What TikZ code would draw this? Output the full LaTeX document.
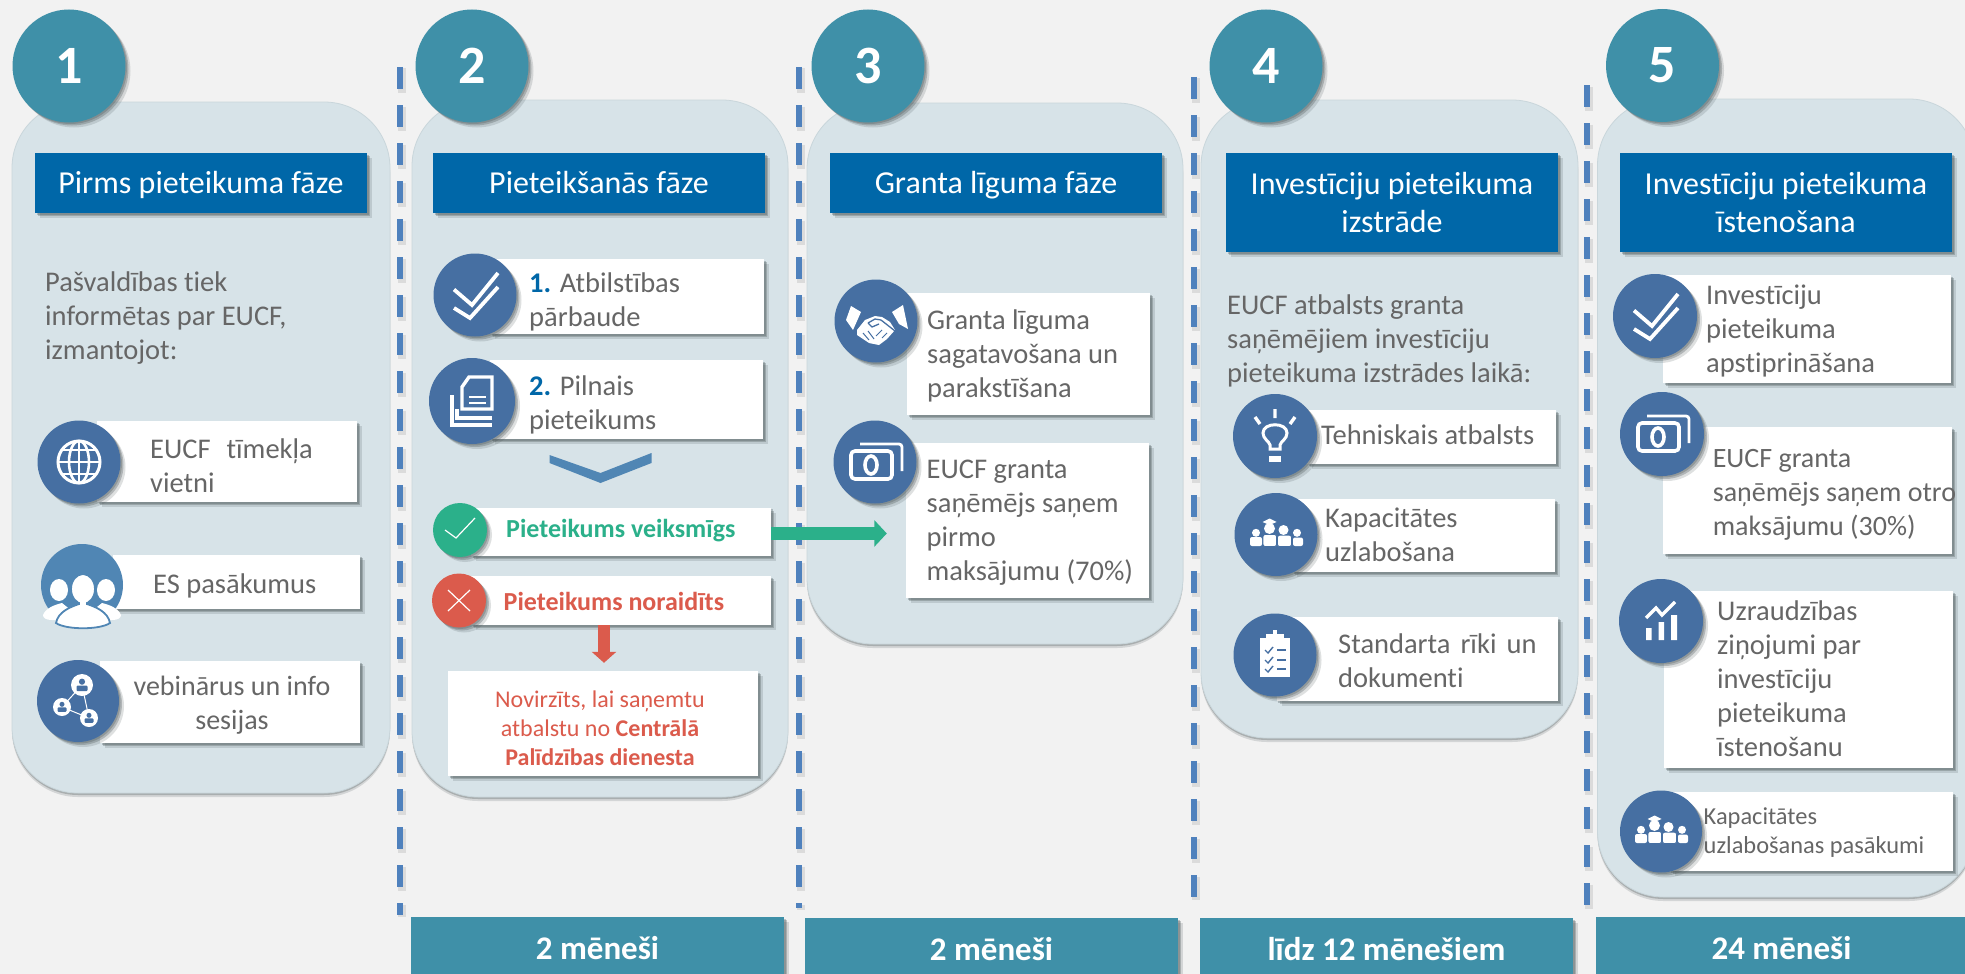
\documentclass[tikz,border=0pt]{standalone}
\usepackage{fontspec}
\setmainfont{Carlito}[Ligatures=NoCommon]
\usetikzlibrary{shadows,arrows.meta}
\definecolor{bgc}{HTML}{F2F2F2}
\definecolor{panelc}{HTML}{D7E3E8}
\definecolor{panelb}{HTML}{C9D6DB}
\definecolor{tealc}{HTML}{3F90A8}
\definecolor{headc}{HTML}{0067A8}
\definecolor{iconc}{HTML}{466FA2}
\definecolor{iconl}{HTML}{5086B4}
\definecolor{dashc}{HTML}{4F81BD}
\definecolor{greenc}{HTML}{2BB08A}
\definecolor{redc}{HTML}{DB5B4C}
\definecolor{txtc}{HTML}{666666}
\definecolor{shc}{HTML}{4A5558}
\definecolor{numc}{HTML}{0067A8}
\tikzset{
  x=1pt,y=-1pt,
  sh/.style={drop shadow={shadow xshift=1.5pt,shadow yshift=-1.5pt,fill=shc,opacity=.3},
             drop shadow={shadow xshift=3pt,shadow yshift=-3pt,fill=shc,opacity=.3},
             drop shadow={shadow xshift=5pt,shadow yshift=-5pt,fill=shc,opacity=.18}},
  shp/.style={drop shadow={shadow xshift=0pt,shadow yshift=-2pt,fill=shc,opacity=.3},
             drop shadow={shadow xshift=0pt,shadow yshift=-4pt,fill=shc,opacity=.18}},
  panel/.style={draw=panelb,line width=.8pt,fill=panelc,rounded corners=66pt,inner sep=0pt,shp},
  bignum/.style={circle,fill=tealc,minimum size=113pt,inner sep=0pt,text=white,font=\fontsize{54}{54}\selectfont\bfseries,sh},
  head/.style={fill=headc,inner sep=0pt,text=white,align=center,sh,font=\fontsize{32}{38}\selectfont},
  foot/.style={fill=tealc,inner sep=0pt,text=white,align=center,font=\fontsize{33}{33}\selectfont\bfseries,sh},
  wbox/.style={fill=white,inner sep=0pt,sh},
  ic/.style={circle,fill=iconc,inner sep=0pt,sh},
  body/.style={anchor=west,inner sep=0pt,align=left,text=txtc,font=\fontsize{28.5}{34}\selectfont},
  bodyc/.style={inner sep=0pt,align=center,text=txtc,font=\fontsize{28}{34}\selectfont},
  sep/.style={line width=6pt,dashc,dash pattern=on 22pt off 16pt},
  sepsh/.style={line width=8pt,black!14,dash pattern=on 24pt off 14pt,transform canvas={shift={(1.5pt,-1.5pt)}}},
  wl/.style={draw=white,line width=3pt,fill=none},
  wf/.style={fill=white,draw=none},
  pics/chk/.style={code={\draw[wl,line width=3.8pt,line join=miter] (-21,-5.5)--(-3,10)--(23,-22);\draw[wl,line width=3.8pt,line join=miter] (-21,13)--(-5,23)--(23,-8);}},
  pics/docs/.style={code={
    \draw[wl,line width=3.4pt] (-3,-24)--(20,-24)--(20,8)--(-10,8)--(-10,-14)--cycle;
    \draw[wl,line width=2.8pt] (-3,-4)--(14,-4) (-3,2)--(14,2);
    \draw[wl,line width=3.4pt] (-20,-6)--(-20,24)--(20,24);
    \draw[wl,line width=3.4pt] (-15,8)--(-15,17)--(20,17);}},
  pics/note/.style={code={
    \draw[wl,line width=3.6pt,rounded corners=4pt] (-24,-11) rectangle (17,17);
    \draw[wl,line width=3.6pt] (-4,3) ellipse [x radius=6,y radius=9];
    \draw[wl,line width=2.8pt,rounded corners=3pt] (-15,-18)--(27,-18)--(27,9);}},
  pics/globe/.style={code={
    \draw[wl] (0,0) circle [radius=21];
    \draw[wl,line width=2.6pt] (0,0) ellipse [x radius=10,y radius=21];
    \draw[wl,line width=2.6pt] (0,-21)--(0,21) (-21,0)--(21,0);
    \draw[wl,line width=2.6pt] (-17,-12)--(17,-12) (-17,12)--(17,12);}},
  pics/crowd/.style={code={
    \fill[white] (-23,5) ellipse [x radius=9,y radius=11];
    \fill[white] (24,5) ellipse [x radius=9,y radius=11];
    \fill[white] (-39,30) .. controls (-36,23) and (-28,20) .. (-20,18) -- (-5,30) -- (-9,35) -- (-30,35) .. controls (-36,35) and (-39,33) .. (-39,30) -- cycle;
    \fill[white] (39,30) .. controls (36,23) and (28,20) .. (20,18) -- (5,30) -- (9,35) -- (30,35) .. controls (36,35) and (39,33) .. (39,30) -- cycle;
    \filldraw[fill=white,draw=iconl,line width=1.8pt] (1,4) ellipse [x radius=12,y radius=15];
    \filldraw[fill=white,draw=iconl,line width=1.8pt] (-26,38) .. controls (-24,27) and (-12,22) .. (-3,19) -- (5,19) .. controls (14,22) and (26,27) .. (28,38) .. controls (18,45) and (-16,45) .. (-26,38) -- cycle;
    \fill[white] (-2,14) rectangle (4,22);}},
  pics/net/.style={code={
    \draw[white,line width=1pt] (4,-16)--(-16,6)--(11,17)--cycle;
    \foreach \a/\b/\r in {4/-16/11,-16/6/9,11/17/9}{
      \fill[white] (\a,\b) circle [radius=\r];
      \fill[iconc] (\a,\b-\r*.3) circle [radius=\r*.28];
      \fill[iconc,rounded corners=1pt] (\a-\r*.5,\b+\r*.55) rectangle (\a+\r*.5,\b+\r*.05);}}},
  pics/shake/.style={code={
    \fill[white] (-30,-1)--(-25,-15)--(-15,-9)--(-23,9)--cycle;
    \fill[white] (16,-9)--(27,-16)--(32,8)--(23,3)--cycle;
    \fill[white] (-19,9)--(-11,-1)--(-1,-5)--(6,-4)--(14,1)--(19,9)--(11,18)--(3,24)--(-7,22)--(-19,14)--cycle;
    \draw[iconc,line width=1.3pt,line join=round] (-8,2)--(-1,-2)--(5,-1)--(19,10) (-8,2)--(-4,6)--(3,3);
    \draw[iconc,line width=1pt] (11,12)--(6,17) (6,9)--(0,15) (-13,12)--(-7,19) (-8,10)--(-2,18);}},
  pics/bulb/.style={code={
    \draw[wl] (-5,13)--(-5,9) .. controls (-6,5) and (-12,3) .. (-12,-3) .. controls (-12,-14) and (12,-14) .. (12,-3) .. controls (12,3) and (6,5) .. (5,9) -- (5,13) -- cycle;
    \fill[white] (-6,20) rectangle (6,26);
    \draw[wl,line width=3.4pt] (0,-27)--(0,-18) (-20,-19)--(-15,-12) (20,-19)--(15,-12);}},
  pics/team/.style={code={
    \fill[white,rounded corners=2pt] (-26,11.5)--(-26,2.5)--(-14,2.5)--(-14,11.5)--cycle (17,11.5)--(17,3)--(27,3)--(27,11.5)--cycle;
    \fill[white] (-20,-1.7) circle [radius=4] (21,-1.7) circle [radius=4];
    \filldraw[fill=white,draw=iconc,line width=.9pt,rounded corners=2pt] (1.5,12)--(1.5,.7)--(15.5,.7)--(15.5,12)--cycle;
    \filldraw[fill=white,draw=iconc,line width=.9pt,rounded corners=2pt] (-13,12)--(-13,0)--(.5,0)--(.5,12)--cycle;
    \fill[white] (7.5,-4.5) circle [radius=5] (-6.5,-6) circle [radius=5.5];
    \fill[white] (-13.5,-12.5)--(-6.5,-16)--(.5,-12.5)--(-6.5,-9.5)--cycle;}},
  pics/clip/.style={code={
    \fill[white] (-15,-17) rectangle (15,22);
    \fill[white] (-9,-21) rectangle (9,-16);
    \fill[white] (-2,-25) rectangle (2,-20);
    \foreach \t in {-5,5,14}{
      \draw[iconc,line width=1.4pt] (-10,\t)--(-7,\t+3)--(-2,\t-3);
      \draw[iconc,line width=1.4pt] (2,\t)--(11,\t);}}},
  pics/chart/.style={code={
    \fill[white] (-15,7) rectangle (-9.5,19) (-2.5,1) rectangle (3,19) (10,-6) rectangle (16,19);
    \draw[wl,line width=3.4pt,line join=miter] (-15,-3)--(-5,-13)--(1,-6)--(14,-19);}},
}
\newcommand{\bx}[5]{\pgfmathsetmacro{\bxw}{#4-#2}\pgfmathsetmacro{\bxh}{#5-#3}%
  \node[wbox,minimum width=\bxw pt,minimum height=\bxh pt] (#1) at ({(#2+#4)/2},{(#3+#5)/2}) {};}
\newcommand{\hd}[6]{\pgfmathsetmacro{\bxw}{#4-#2}\pgfmathsetmacro{\bxh}{#5-#3}%
  \node[head,minimum width=\bxw pt,minimum height=\bxh pt] (#1) at ({(#2+#4)/2},{(#3+#5)/2}) {#6};}
\newcommand{\ft}[6]{\pgfmathsetmacro{\bxw}{#4-#2}\pgfmathsetmacro{\bxh}{#5-#3}%
  \node[foot,minimum width=\bxw pt,minimum height=\bxh pt] (#1) at ({(#2+#4)/2},{(#3+#5)/2}) {#6};}
\newcommand{\pn}[5]{\pgfmathsetmacro{\bxw}{#4-#2}\pgfmathsetmacro{\bxh}{#5-#3}%
  \node[panel,minimum width=\bxw pt,minimum height=\bxh pt] (#1) at ({(#2+#4)/2},{(#3+#5)/2}) {};}
\newcommand{\sepl}[3]{\draw[sepsh] (#1,#2)--(#1,#3);\draw[sep] (#1,#2)--(#1,#3);}
\newcommand{\num}[1]{{\bfseries\color{numc}#1}}
\newcommand{\oneline}[1]{\raisebox{-10pt}[0pt][0pt]{#1}}
\begin{document}
\begin{tikzpicture}
\useasboundingbox (0,0) rectangle (1965,974);
\clip (0,0) rectangle (1965,974);
\fill[bgc] (0,0) rectangle (1965,974);
% separators
\sepl{400}{67}{915}
\sepl{799}{67}{908}
\sepl{1194}{77}{898}
\sepl{1587}{85}{907}
% panels
\pn{p1}{12}{102}{390}{793}
\pn{p2}{412}{100}{788}{797}
\pn{p3}{807}{103}{1183}{644}
\pn{p4}{1201}{100}{1578}{738}
\pn{p5}{1597.5}{99}{1975}{897}
% numbers
\node[bignum] (n1) at (69,66) {1};
\node[bignum] (n2) at (472,66) {2};
\node[bignum] (n3) at (868,66) {3};
\node[bignum] (n4) at (1266,66) {4};
\node[bignum] (n5) at (1662.5,65.5) {5};
% headers
\hd{h1}{35}{153}{367}{213}{\oneline{Pirms pieteikuma fāze}}
\hd{h2}{433}{153}{765}{213}{\oneline{Pieteikšanās fāze}}
\hd{h3}{830}{153}{1162}{213}{\oneline{Granta līguma fāze}}
\hd{h4}{1226}{153}{1558}{252}{Investīciju pieteikuma\\izstrāde}
\hd{h5}{1620}{153}{1952}{252}{Investīciju pieteikuma\\īstenošana}
% footers
\ft{f2}{411}{917}{784}{980}{2 mēneši}
\ft{f3}{805}{918}{1178}{980}{2 mēneši}
\ft{f4}{1200}{918}{1573}{980}{līdz 12 mēnešiem}
\ft{f5}{1596}{917}{1967}{980}{24 mēneši}
% ---- panel 1
\node[body] (t1) at (45,318.5) {Pašvaldības tiek\\informētas par EUCF,\\izmantojot:};
\bx{b11}{97}{421}{357}{502}
\node[ic,minimum size=83pt] (i11) at (79,462) {};
\pic at (79,462) {globe};
\node[body] (t11) at (150,466) {EUCF\hspace{16pt}tīmekļa\\vietni};
\bx{b12}{113}{555}{360}{609}
\node[circle,fill=iconl,inner sep=0pt,minimum size=82pt] (i12) at (82,585) {};
\pic at (82,585) {crowd};
\node[body] (t12) at (153,586) {ES pasākumus};
\bx{b13}{100}{661}{360}{743}
\node[ic,minimum size=82pt] (i13) at (78,701) {};
\pic at (78,701) {net};
\node[bodyc] (t13) at (232,705.5) {vebinārus un info\\sesijas};
% ---- panel 2
\bx{b21}{490}{259}{764}{334}
\node[ic,minimum size=83pt] (i21) at (475,295) {};
\pic at (475,295) {chk};
\node[body] (t21) at (529,301.5) {\num{1.} Atbilstības\\pārbaude};
\bx{b22}{490}{360}{763}{439}
\node[ic,minimum size=86pt] (i22) at (472,401) {};
\pic at (472,401) {docs};
\node[body] (t22) at (529,405) {\num{2.} Pilnais\\pieteikums};
\fill[iconl] (549.5,455)--(600.5,473)--(651.5,453)--(651.5,463)--(600.5,483)--(549.5,463)--cycle;
\bx{gok}{471}{507.5}{771}{556}
\node[circle,fill=greenc,inner sep=0pt,minimum size=54pt,sh] (i23) at (460,530) {};
\draw[white,line width=1.2pt] (445,530)--(456,538)--(475,518);
\node[anchor=west,inner sep=0pt,text=greenc,font=\fontsize{26}{30}\selectfont\bfseries] (t23) at (506,531) {Pieteikums veiksmīgs};
\bx{rej}{471}{576}{771}{625}
\node[circle,fill=redc,inner sep=0pt,minimum size=54pt,sh] (i24) at (459,600.5) {};
\draw[white,line width=1.2pt] (448,590)--(470,611) (470,590)--(448,611);
\node[anchor=west,inner sep=0pt,text=redc,font=\fontsize{26}{30}\selectfont\bfseries] (t24) at (503.5,601) {Pieteikums noraidīts};
\bx{rb}{448}{671}{758}{776}
\node[inner sep=0pt,align=center,text=redc,font=\fontsize{24}{29}\selectfont] (t25) at (600,728) {Novirzīts, lai saņemtu\\atbalstu no \textbf{Centrālā}\\\textbf{Palīdzības dienesta}};
% ---- panel 3
\bx{b31}{907}{293}{1150}{415}
\node[ic,minimum size=83pt] (i31) at (876,321) {};
\pic at (876,321) {shake};
\node[body] (t31) at (927,356) {Granta līguma\\sagatavošana un\\parakstīšana};
\bx{b32}{906}{443}{1149}{598}
\node[ic,minimum size=83pt] (i32) at (875,462) {};
\pic at (875,462) {note};
\node[body] (t32) at (926.5,522.5) {EUCF granta\\saņēmējs saņem\\pirmo\\maksājumu (70\%)};
% ---- panel 4
\node[body] (t4) at (1227,341) {EUCF atbalsts granta\\saņēmējiem investīciju\\pieteikuma izstrādes laikā:};
\bx{b41}{1307}{410}{1556}{464}
\node[ic,minimum size=84pt] (i41) at (1275,436) {};
\pic at (1275,436) {bulb};
\node[body] (t41) at (1321,435) {Tehniskais atbalsts};
\bx{b42}{1292}{499}{1555}{572}
\node[ic,minimum size=83pt] (i42) at (1276,534.5) {};
\pic at (1276,534.5) {team};
\node[body] (t42) at (1325,535) {Kapacitātes\\uzlabošana};
\bx{b43}{1276.5}{617}{1558}{701}
\node[ic,minimum size=83pt] (i43) at (1275,655) {};
\pic at (1275,655) {clip};
\node[body] (t43) at (1338,660.5) {Standarta\hspace{10pt}rīki\hspace{10pt}un\\dokumenti};
% ---- panel 5
\bx{b51}{1663}{275}{1951}{383}
\node[ic,minimum size=84pt] (i51) at (1655,316) {};
\pic at (1655,316) {chk};
\node[body] (t51) at (1706,331) {Investīciju\\pieteikuma\\apstiprināšana};
\bx{b52}{1663}{427}{1952}{554}
\node[ic,minimum size=84pt] (i52) at (1662,434) {};
\pic at (1662,434) {note};
\node[body,font=\fontsize{28}{34}\selectfont] (t52) at (1712.6,494.5) {EUCF granta\\saņēmējs saņem otro\\maksājumu (30\%)};
\bx{b53}{1664}{591}{1953}{768}
\node[ic,minimum size=84pt] (i53) at (1661,621) {};
\pic at (1661,621) {chart};
\node[body] (t53) at (1717,678.5) {Uzraudzības\\ziņojumi par\\investīciju\\pieteikuma\\īstenošanu};
\bx{b54}{1669.5}{792}{1953}{871}
\node[ic,minimum size=82pt] (i54) at (1661,831.5) {};
\pic at (1661,831.5) {team};
\node[body,font=\fontsize{24.4}{29}\selectfont] (t54) at (1703.5,833) {Kapacitātes\\uzlabošanas pasākumi};
% arrows
\draw[greenc,line width=13pt,-{Triangle[width=26pt,length=12.5pt]},shorten >=19pt] ([yshift=-1.7pt]gok.east) -- ([yshift=-1.7pt]gok.east -| b32.west);
\draw[redc,line width=12pt,-{Triangle[width=24pt,length=11pt]},shorten >=8pt] ([xshift=-17pt]rej.south) -- ([xshift=-17pt]rej.south |- rb.north);
\end{tikzpicture}
\end{document}
